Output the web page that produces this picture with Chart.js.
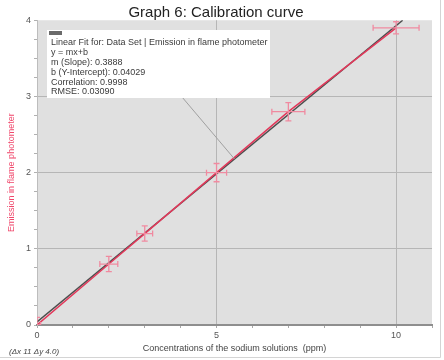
<!DOCTYPE html>
<html><head><meta charset="utf-8">
<script src="https://cdn.jsdelivr.net/npm/chart.js@4.4.1/dist/chart.umd.min.js"></script>
<style>html,body{margin:0;padding:0;background:#fff}#wrap{width:444px;height:360px}</style>
</head><body><div id="wrap"><canvas id="c" width="444" height="360"></canvas></div>
<script>
const concentrations = [0, 2, 3, 5, 7, 10];
const emission = [0, 0.8, 1.2, 2.0, 2.8, 3.9];
const xErrors = [0.1, 0.25, 0.22, 0.28, 0.46, 0.64];
const yErrors = [0.1, 0.1, 0.1, 0.12, 0.12, 0.08];
const fitSlope = 0.3888;
const fitIntercept = 0.04029;
const xTickLabels = [0, 5, 10];
const yTickLabels = [0, 1, 2, 3, 4];
const fitLines = [
  'Linear Fit for: Data Set | Emission in flame photometer',
  'y = mx+b',
  'm (Slope): 0.3888',
  'b (Y-Intercept): 0.04029',
  'Correlation: 0.9998',
  'RMSE: 0.03090'
];
const FONT = '"Liberation Sans", Arial, sans-serif';
const fitEndX = (4 - fitIntercept) / fitSlope;

const pts = concentrations.map((x, i) => ({x, y: emission[i]}));

const bgPlugin = {
  id: 'bg',
  beforeDraw(chart) {
    const {ctx, chartArea: a} = chart;
    ctx.save();
    ctx.fillStyle = '#e0e0e0';
    ctx.fillRect(a.left, a.top, a.right - a.left, a.bottom - a.top);
    ctx.strokeStyle = '#d4d4d4';
    ctx.lineWidth = 1;
    ctx.beginPath();
    ctx.moveTo(440.5, 0); ctx.lineTo(440.5, 357.5); ctx.lineTo(0, 357.5);
    ctx.stroke();
    ctx.restore();
  }
};

const errPlugin = {
  id: 'err',
  afterDatasetsDraw(chart) {
    const {ctx, chartArea: a, scales: {x: xs, y: ys}} = chart;
    ctx.save();
    ctx.beginPath();
    ctx.rect(a.left, a.top, a.right - a.left, a.bottom - a.top);
    ctx.clip();
    ctx.strokeStyle = '#f08aa0';
    ctx.lineWidth = 1.3;
    concentrations.forEach((xv, i) => {
      const px = xs.getPixelForValue(xv), py = ys.getPixelForValue(emission[i]);
      const x1 = xs.getPixelForValue(xv - xErrors[i]), x2 = xs.getPixelForValue(xv + xErrors[i]);
      const y1 = ys.getPixelForValue(emission[i] - yErrors[i]), y2 = ys.getPixelForValue(emission[i] + yErrors[i]);
      ctx.beginPath();
      ctx.moveTo(x1, py); ctx.lineTo(x2, py);
      ctx.moveTo(x1, py - 3); ctx.lineTo(x1, py + 3);
      ctx.moveTo(x2, py - 3); ctx.lineTo(x2, py + 3);
      ctx.moveTo(px, y1); ctx.lineTo(px, y2);
      ctx.moveTo(px - 3, y1); ctx.lineTo(px + 3, y1);
      ctx.moveTo(px - 3, y2); ctx.lineTo(px + 3, y2);
      ctx.stroke();
    });
    ctx.restore();
  },
  afterDraw(chart) {
    const {ctx, scales: {x: xs, y: ys}} = chart;
    ctx.save();
    const lx = 5.5;
    ctx.strokeStyle = '#a0a0a0';
    ctx.lineWidth = 1;
    ctx.beginPath();
    ctx.moveTo(182, 97);
    ctx.lineTo(xs.getPixelForValue(lx), ys.getPixelForValue(fitSlope * lx + fitIntercept));
    ctx.stroke();
    ctx.fillStyle = '#ffffff';
    ctx.fillRect(47, 30, 223, 68);
    ctx.fillStyle = '#6a6a6a';
    ctx.fillRect(49, 31, 13, 4);
    ctx.fillStyle = '#3a3a3a';
    ctx.font = '9px ' + FONT;
    ctx.textBaseline = 'middle';
    ctx.textAlign = 'left';
    fitLines.forEach((t, i) => ctx.fillText(t, 51, 43 + i * 9.8));
    ctx.font = 'italic 8px ' + FONT;
    ctx.fillStyle = '#444';
    ctx.fillText('(\u0394x 11 \u0394y 4.0)', 9, 352);
    ctx.restore();
  }
};

new Chart(document.getElementById('c'), {
  type: 'scatter',
  data: {
    datasets: [
      {
        label: 'Data',
        data: pts,
        showLine: true,
        borderColor: '#e2385a',
        borderWidth: 1.5,
        pointRadius: 0,
        order: 1
      },
      {
        label: 'Fit',
        data: [{x: 0, y: fitIntercept}, {x: fitEndX, y: 4}],
        showLine: true,
        borderColor: 'rgba(50,50,50,0.85)',
        borderWidth: 1.5,
        pointRadius: 0,
        order: 2
      }
    ]
  },
  options: {
    responsive: false,
    animation: false,
    layout: {padding: {left: 0, right: 12, top: 0, bottom: 0}},
    plugins: {
      legend: {display: false},
      tooltip: {enabled: false},
      title: {
        display: true,
        text: 'Graph 6: Calibration curve',
        color: '#222',
        font: {family: FONT, size: 15, weight: 'normal', lineHeight: 0.95},
        padding: {top: 6, bottom: 0}
      }
    },
    scales: {
      x: {
        type: 'linear', min: 0, max: 11,
        afterFit(s) { s.height = 35; },
        ticks: {
          stepSize: 1, autoSkip: false, maxRotation: 0, padding: 2,
          color: '#555', font: {family: FONT, size: 9},
          callback: v => xTickLabels.includes(v) ? String(v) : ''
        },
        grid: {
          color: c => (c.tick && c.tick.value % 5 === 0 && c.tick.value > 0) ? '#b6b6b6' : 'rgba(0,0,0,0)',
          tickColor: '#a8a8a8', tickLength: 3, lineWidth: 1
        },
        border: {color: '#8e8e8e', width: 2},
        title: {
          display: true, text: 'Concentrations of the sodium solutions  (ppm)',
          color: '#444', font: {family: FONT, size: 9}, padding: {top: 0, bottom: 6}
        }
      },
      y: {
        type: 'linear', min: 0, max: 4,
        afterFit(s) { s.width = 37; },
        ticks: {
          stepSize: 0.25, autoSkip: false, padding: 3,
          color: '#555', font: {family: FONT, size: 9},
          callback: v => yTickLabels.includes(v) ? String(v) : ''
        },
        grid: {
          color: c => (c.tick && Number.isInteger(c.tick.value) && c.tick.value > 0 && c.tick.value < 4) ? '#b6b6b6' : 'rgba(0,0,0,0)',
          tickColor: '#b0b0b0', tickLength: 3, lineWidth: 1
        },
        border: {color: '#bdbdbd', width: 1},
        title: {
          display: true, text: 'Emission in flame photometer',
          color: '#f0476b', font: {family: FONT, size: 9}, padding: {top: 6, bottom: 0}
        }
      }
    }
  },
  plugins: [bgPlugin, errPlugin]
});
</script>
</body></html>
